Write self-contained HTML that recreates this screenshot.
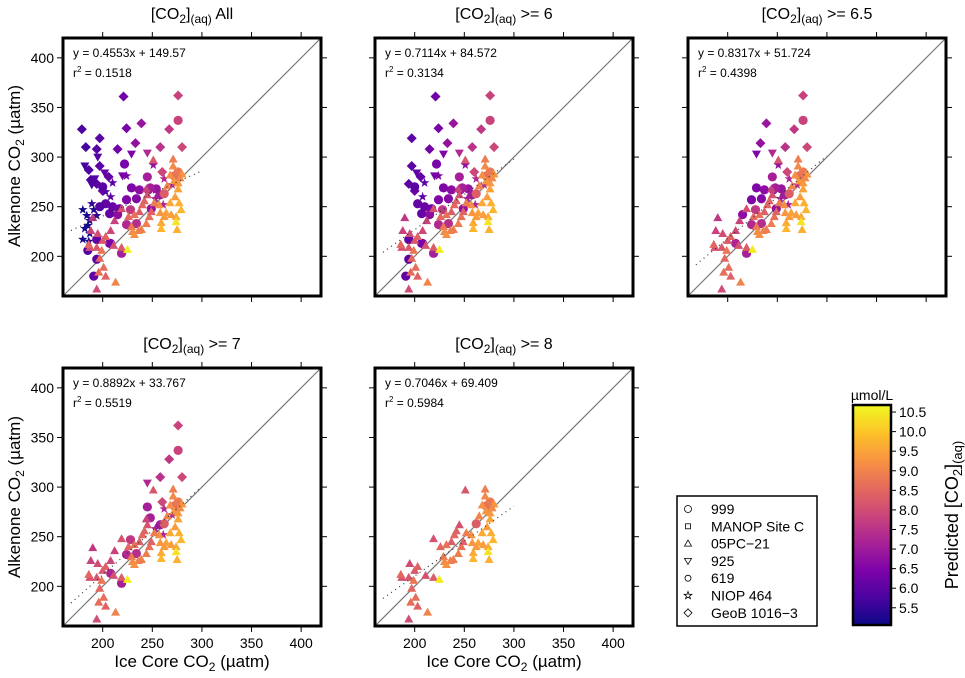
<!DOCTYPE html>
<html><head><meta charset="utf-8">
<style>
html,body{margin:0;padding:0;background:#fff;}
svg{display:block;font-family:"Liberation Sans",Arial,sans-serif;}
</style></head>
<body>
<svg id="chart" width="965" height="678" viewBox="0 0 965 678"></svg>
<script>
const iceCO2 = [221,179,197,183,194,215,233,224,239,267,276,280,258,260,186,197,206,194,188,200,
 195,229,245,182,202,220,192,189,
 180,184,187,185,182,187,180,191,194,189,203,208,210,224,251,262,261,270,253,186,
 203,197,210,200,207,217,224,229,237,245,246,254,258,249,234,222,194,185,194,191,219,208,224,234,228,215,207,276,272,276,262,248,
 194,213,203,201,196,197,194,187,200,203,195,208,219,225,212,219,226,229,236,244,247,249,237,271,271,268,276,276,273,277,268,279,274,269,264,258,259,262,257,274,275,259,252,251,245,244,240,230,232,239,188,190,186,199,211,232,242,265,272,280,278];
const alkCO2 = [361,328,319,310,308,308,314,329,334,328,362,310,310,285,287,291,280,273,277,266,
 300,303,304,291,284,281,278,272,
 247,241,236,231,228,223,217,247,241,253,265,260,274,281,292,278,252,272,258,215,
 253,250,250,270,243,248,257,269,267,280,267,268,262,248,258,293,217,206,197,180,203,213,232,233,247,242,213,337,281,285,263,269,
 167,174,180,189,184,198,209,209,216,220,223,226,209,207,236,248,240,230,226,233,240,245,245,291,298,282,274,268,260,254,254,247,240,242,244,244,234,240,252,235,227,228,254,297,262,268,252,225,222,227,226,239,212,206,211,242,256,271,276,283,279];
const predCO2aq = [6.3,5.8,6.0,5.7,5.9,6.3,6.8,6.4,6.9,7.6,7.8,7.9,7.5,7.9,5.8,6.0,6.1,6.0,5.8,6.2,
 5.9,6.5,7.3,5.7,6.1,6.4,5.9,5.8,
 5.1,5.2,5.2,5.1,5.2,5.1,5.2,5.3,5.4,5.5,5.8,6.0,6.0,6.4,6.8,7.3,7.2,7.4,7.0,5.3,
 6.1,5.9,6.2,6.0,6.1,6.3,6.5,6.5,6.7,7.1,6.8,6.9,7.0,6.8,6.6,6.4,6.1,5.9,6.0,6.1,7.1,7.2,7.3,7.4,7.6,6.7,6.4,7.8,8.6,8.8,8.3,7.1,
 8.0,9.0,8.4,8.6,8.6,8.5,8.2,8.1,8.2,8.4,8.0,7.9,8.3,10.5,7.8,8.1,8.5,8.8,9.0,8.9,8.7,8.4,8.3,9.1,8.9,9.2,9.3,9.5,9.4,9.7,9.6,9.8,9.6,9.4,9.5,9.3,9.6,9.4,9.2,10.4,9.7,9.8,8.9,8.2,8.1,7.8,8.5,9.1,9.2,8.9,7.8,7.6,8.5,8.8,8.1,8.7,8.4,9.0,9.3,9.3,9.1];
const siteType = [].concat(Array(20).fill('D'),Array(8).fill('V'),Array(20).fill('S'),Array(32).fill('C'),Array(61).fill('T'));
const panelTitles = ['All','>= 6','>= 6.5','>= 7','>= 8'];
const thresholds = [0,6,6.5,7,8];
const slopes = ['0.4553','0.7114','0.8317','0.8892','0.7046'];
const intercepts = ['149.57','84.572','51.724','33.767','69.409'];
const r2s = ['0.1518','0.3134','0.4398','0.5519','0.5984'];
const axisTicks = [200,250,300,350,400];
const cbarTicks = [5.5,6.0,6.5,7.0,7.5,8.0,8.5,9.0,9.5,10.0,10.5];
const legendLabels = ['999','MANOP Site C','05PC\u221221','925','619','NIOP 464','GeoB 1016\u22123'];

const NS='http://www.w3.org/2000/svg';
const svg=document.getElementById('chart');
function mk(tag,attrs,parent){const e=document.createElementNS(NS,tag);for(const k in attrs)e.setAttribute(k,attrs[k]);(parent||svg).appendChild(e);return e;}
const stops=['#0d0887','#4b03a1','#7d03a8','#a82296','#cb4679','#e56b5d','#f89441','#fdc328','#f0f921'];
function hex(h){return [parseInt(h.slice(1,3),16),parseInt(h.slice(3,5),16),parseInt(h.slice(5,7),16)];}
const VMIN=5.06,VMAX=10.68;
function color(v){let t=(v-VMIN)/(VMAX-VMIN);t=Math.max(0,Math.min(1,t));const f=t*(stops.length-1);const i=Math.min(stops.length-2,Math.floor(f));const r=f-i;const a=hex(stops[i]),b=hex(stops[i+1]);return 'rgb('+a.map((c,j)=>Math.round(c+(b[j]-c)*r)).join(',')+')';}

const S=258, DMIN=160, DMAX=420;
const panelPos=[[63,38],[375,38],[688,38],[63,368],[375,368]];
function shape(type,cx,cy,fill,g){
  let e;
  if(type==='C'){e=mk('circle',{cx:cx,cy:cy,r:4.6,fill:fill},g);}
  else if(type==='T'){e=mk('polygon',{points:`${cx},${cy-4.5} ${cx+4.5},${cy+3.5} ${cx-4.5},${cy+3.5}`,fill:fill},g);}
  else if(type==='V'){e=mk('polygon',{points:`${cx},${cy+4.5} ${cx+4.5},${cy-3.5} ${cx-4.5},${cy-3.5}`,fill:fill},g);}
  else if(type==='D'){e=mk('polygon',{points:`${cx},${cy-5} ${cx+5},${cy} ${cx},${cy+5} ${cx-5},${cy}`,fill:fill},g);}
  else if(type==='S'){let p=[];for(let k=0;k<10;k++){const r=k%2?2:5;const a=-Math.PI/2+k*Math.PI/5;p.push((cx+r*Math.cos(a)).toFixed(1)+','+(cy+r*Math.sin(a)).toFixed(1));}e=mk('polygon',{points:p.join(' '),fill:fill},g);}
  return e;
}
panelPos.forEach((pp,pi)=>{
  const L=pp[0],T=pp[1];
  const sx=v=>L+(v-DMIN)*S/(DMAX-DMIN);
  const sy=v=>T+S-(v-DMIN)*S/(DMAX-DMIN);
  const g=mk('g',{});
  
  
  const t=mk('text',{x:L+S/2,y:T-19,'text-anchor':'middle','font-size':16,fill:'#000'},g);
  
  
  t.innerHTML='[CO<tspan font-size="12" dy="4">2</tspan><tspan dy="-4">]</tspan><tspan font-size="12" dy="4">(aq)</tspan><tspan dy="-4"> '+panelTitles[pi].replace('>','&gt;')+'</tspan>';
  axisTicks.forEach(tv=>{
    mk('line',{x1:sx(tv),x2:sx(tv),y1:T+S,y2:T+S+6,stroke:'#000','stroke-width':1},g);
    mk('line',{x1:sx(tv),x2:sx(tv),y1:T,y2:T-6,stroke:'#000','stroke-width':1},g);
    mk('line',{x1:L,x2:L-6,y1:sy(tv),y2:sy(tv),stroke:'#000','stroke-width':1},g);
    mk('line',{x1:L+S,x2:L+S+6,y1:sy(tv),y2:sy(tv),stroke:'#000','stroke-width':1},g);
    if(pi===0||pi===3){const tl=mk('text',{x:L-9,y:sy(tv)+5,'text-anchor':'end','font-size':14,fill:'#000'},g);tl.textContent=tv;
      
      }
    if(pi>=3){const tl=mk('text',{x:sx(tv),y:T+S+22,'text-anchor':'middle','font-size':14,fill:'#000'},g);tl.textContent=tv;
      
      }
  });
  const one=mk('line',{x1:sx(DMIN),y1:sy(DMIN),x2:sx(DMAX),y2:sy(DMAX),stroke:'#777','stroke-width':1.2},g);
  
  
  for(let i=0;i<iceCO2.length;i++){
    if(predCO2aq[i]<thresholds[pi])continue;
    const m=shape(siteType[i],sx(iceCO2[i]),sy(alkCO2[i]),color(predCO2aq[i]),g);
    
    
  }
  const a=parseFloat(slopes[pi]),b=parseFloat(intercepts[pi]);
  const rl=mk('line',{x1:sx(168),y1:sy(a*168+b),x2:sx(300),y2:sy(a*300+b),stroke:'#333','stroke-width':1.2,'stroke-dasharray':'1 4'},g);
  
  
  const e1=mk('text',{x:L+10,y:T+19,'font-size':12,fill:'#000'},g);
  e1.textContent='y = '+slopes[pi]+'x + '+intercepts[pi];
  
  
  const e2=mk('text',{x:L+10,y:T+39,'font-size':12,fill:'#000'},g);
  e2.innerHTML='r<tspan font-size="8" dy="-5">2</tspan><tspan dy="5"> = '+r2s[pi]+'</tspan>';
  
  
  const box=mk('rect',{x:L,y:T,width:S,height:S,fill:'none',stroke:'#000','stroke-width':3},g);
  
  
});
[[166],[497]].forEach(r=>{
  const t=mk('text',{x:0,y:0,transform:`translate(20,${r[0]}) rotate(-90)`,'text-anchor':'middle','font-size':17,fill:'#000'});
  t.innerHTML='Alkenone CO<tspan font-size="12" dy="4">2</tspan><tspan dy="-4"> (µatm)</tspan>';
  
  
});
[192,504].forEach(cx=>{
  const t=mk('text',{x:cx,y:667,'text-anchor':'middle','font-size':17,fill:'#000'});
  t.innerHTML='Ice Core CO<tspan font-size="12" dy="4">2</tspan><tspan dy="-4"> (µatm)</tspan>';
  
  
});
const lg=mk('g',{});


mk('rect',{x:677,y:496,width:140,height:130,fill:'#fff',stroke:'#000','stroke-width':1.5},lg);
const legTypes=['c','s','T','V','c2','S','d'];
legendLabels.forEach((lab,i)=>{
  const y=509+i*17.3, cx=688;
  const tp=legTypes[i];
  const st={fill:'none',stroke:'#000','stroke-width':0.8};
  if(tp==='c')mk('circle',Object.assign({cx:cx,cy:y,r:3.5},st),lg);
  else if(tp==='c2')mk('circle',Object.assign({cx:cx,cy:y,r:3},st),lg);
  else if(tp==='s')mk('rect',Object.assign({x:cx-2.5,y:y-2.5,width:5,height:5},st),lg);
  else if(tp==='T')mk('polygon',Object.assign({points:`${cx},${y-3.5} ${cx+3.5},${y+2.5} ${cx-3.5},${y+2.5}`},st),lg);
  else if(tp==='V')mk('polygon',Object.assign({points:`${cx},${y+3.5} ${cx+3.5},${y-2.5} ${cx-3.5},${y-2.5}`},st),lg);
  else if(tp==='d')mk('polygon',Object.assign({points:`${cx},${y-4} ${cx+4},${y} ${cx},${y+4} ${cx-4},${y}`},st),lg);
  else if(tp==='S'){let p=[];for(let k=0;k<10;k++){const r=k%2?1.6:4;const a=-Math.PI/2+k*Math.PI/5;p.push((cx+r*Math.cos(a)).toFixed(1)+','+(y+r*Math.sin(a)).toFixed(1));}mk('polygon',Object.assign({points:p.join(' ')},st),lg);}
  const t=mk('text',{x:711,y:y+5,'font-size':14,fill:'#000'},lg);
  t.textContent=lab;
  
  
});
const cb=mk('g',{});


const defs=mk('defs',{});
const grad=mk('linearGradient',{id:'plasma',x1:0,y1:1,x2:0,y2:0},defs);
stops.forEach((c,i)=>mk('stop',{offset:(i/(stops.length-1)),'stop-color':c},grad));
const CT=405,CB=625;
mk('rect',{x:853,y:CT,width:38,height:CB-CT,fill:'url(#plasma)',stroke:'#000','stroke-width':2.5},cb);
const cy=v=>CB-(v-VMIN)*(CB-CT)/(VMAX-VMIN);
cbarTicks.forEach(v=>{
  mk('line',{x1:891,x2:896,y1:cy(v),y2:cy(v),stroke:'#000','stroke-width':1},cb);
  const t=mk('text',{x:899,y:cy(v)+5,'font-size':14,fill:'#000'},cb);
  t.textContent=v.toFixed(1);
  
  
});
const cu=mk('text',{x:872,y:400,'text-anchor':'middle','font-size':14,fill:'#000'},cb);
cu.textContent='µmol/L';


const ct=mk('text',{x:0,y:0,transform:'translate(958,515) rotate(-90)','text-anchor':'middle','font-size':18,fill:'#000'},cb);
ct.innerHTML='Predicted [CO<tspan font-size="13" dy="4">2</tspan><tspan dy="-4">]</tspan><tspan font-size="13" dy="4">(aq)</tspan>';


</script>
</body></html>
